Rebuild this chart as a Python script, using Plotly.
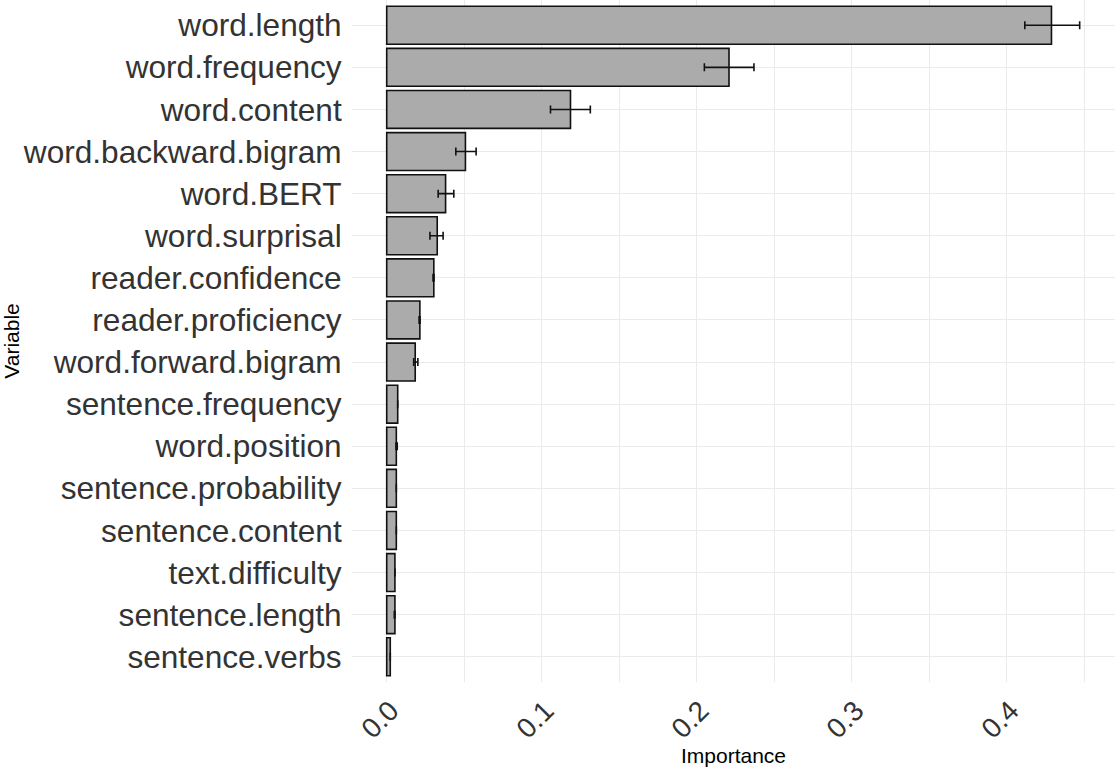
import plotly.graph_objects as go

variables = ["word.length", "word.frequency", "word.content", "word.backward.bigram",
             "word.BERT", "word.surprisal", "reader.confidence", "reader.proficiency",
             "word.forward.bigram", "sentence.frequency", "word.position",
             "sentence.probability", "sentence.content", "text.difficulty",
             "sentence.length", "sentence.verbs"]
importance = [0.4290, 0.2209, 0.1186, 0.0508, 0.0380, 0.0326, 0.0304, 0.0214,
              0.0184, 0.0071, 0.0062, 0.0062, 0.0062, 0.0053, 0.0053, 0.0023]
err_low = [0.4118, 0.2050, 0.1057, 0.0446, 0.0332, 0.0279, 0.0299, 0.0209,
           0.0174, 0.0071, 0.0060, 0.0062, 0.0062, 0.0053, 0.0049, 0.0023]
err_high = [0.4472, 0.2370, 0.1314, 0.0577, 0.0433, 0.0364, 0.0305, 0.0215,
            0.0201, 0.0071, 0.0068, 0.0062, 0.0062, 0.0053, 0.0052, 0.0023]
x_ticks = [0.0, 0.1, 0.2, 0.3, 0.4]
x_tick_labels = ["0.0", "0.1", "0.2", "0.3", "0.4"]

plus = [max(h - v, 0) for h, v in zip(err_high, importance)]
minus = [max(v - l, 0) for l, v in zip(err_low, importance)]

fig = go.Figure()
fig.add_trace(go.Bar(
    x=importance, y=variables, orientation="h", width=0.9,
    marker=dict(color="#ABABAB", line=dict(color="#111111", width=1.6)),
    error_x=dict(type="data", symmetric=False, array=plus, arrayminus=minus,
                 color="#111111", thickness=1.6, width=4),
    showlegend=False,
))

font_family = "Liberation Sans, Arial, sans-serif"
fig.update_layout(
    width=1115, height=769,
    margin=dict(l=352, r=0, t=0, b=87),
    plot_bgcolor="white", paper_bgcolor="white",
    font=dict(family=font_family, color="#333333"),
    xaxis=dict(
        automargin=False,
        range=[-0.0224, 0.470],
        tickvals=x_ticks, ticktext=x_tick_labels,
        tickangle=-45, tickfont=dict(size=28, color="#333333"),
        ticklabelshift=4,
        showgrid=True, gridcolor="#EBEBEB", gridwidth=1.3,
        minor=dict(dtick=0.05, tick0=0, showgrid=True, gridcolor="#EBEBEB", gridwidth=0.8),
        zeroline=False, showline=False,
        ticks="outside", ticklen=0, tickcolor="rgba(0,0,0,0)",
        title=dict(text="Importance", font=dict(size=21, color="black"), standoff=3),
    ),
    yaxis=dict(
        automargin=False,
        categoryorder="array", categoryarray=list(reversed(variables)),
        range=[-0.6, 15.6],
        tickfont=dict(size=31.6, color="#333333"),
        showgrid=True, gridcolor="#EBEBEB", gridwidth=1.3,
        zeroline=False, showline=False,
        ticks="outside", ticklen=3, tickcolor="rgba(0,0,0,0)",
        title=dict(text="Variable", font=dict(size=21, color="black"), standoff=4),
    ),
)

fig.write_html("out.html",
               config={"displayModeBar": False},
               post_script="document.body.style.margin='0px';document.body.style.overflow='hidden';")
